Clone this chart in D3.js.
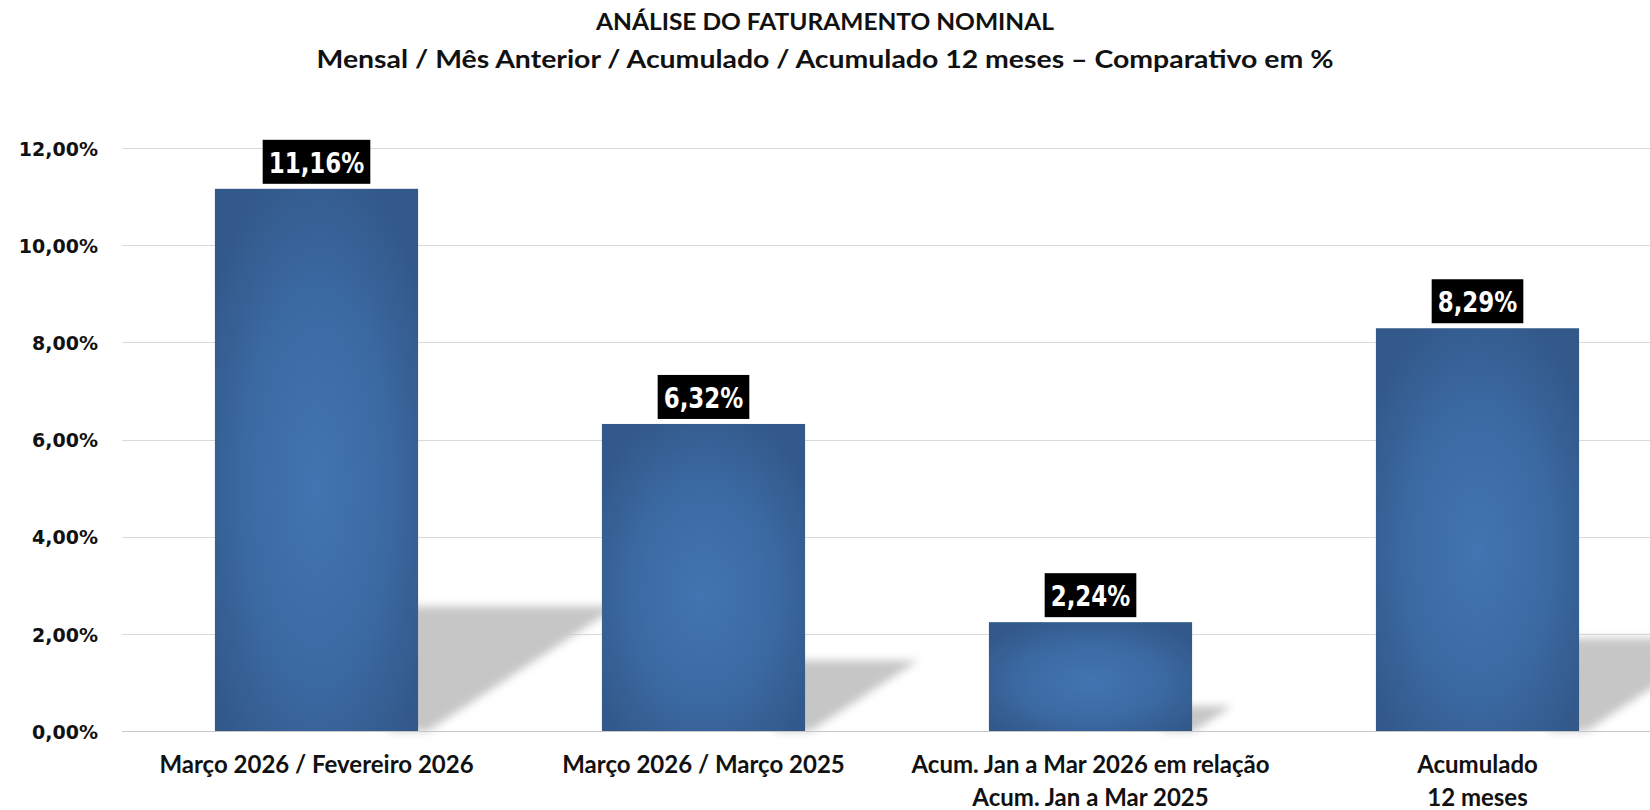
<!DOCTYPE html>
<html>
<head>
<meta charset="utf-8">
<script src="https://cdn.jsdelivr.net/npm/d3@7"></script>
<style>
html,body{margin:0;padding:0;background:#fff;}
svg{display:block;}
</style>
</head>
<body>
<svg id="chart" width="1650" height="810"></svg>
<script>
// ---- data ----
const titleLines = ["ANÁLISE DO FATURAMENTO NOMINAL", "Mensal / Mês Anterior / Acumulado  / Acumulado  12 meses – Comparativo  em %"];
const categories = ["c1", "c2", "c3", "c4"];
const categoryLabels = [
  ["Março 2026 / Fevereiro 2026"],
  ["Março 2026 / Março 2025"],
  ["Acum. Jan a Mar 2026 em relação", "Acum. Jan a Mar 2025"],
  ["Acumulado", "12 meses"]
];
const values = [11.16, 6.32, 2.24, 8.29];
const yTicks = [0, 2, 4, 6, 8, 10, 12];

// ---- setup ----
const svg = d3.select("#chart");
const W = 1650, H = 810;
const plot = {left: 123, right: 1671, top: 148, bottom: 731};
const locale = d3.formatLocale({decimal: ",", thousands: ".", grouping: [3], currency: ["R$", ""]});
const fmt = locale.format(".2f");

const x = d3.scaleBand().domain(categories).range([plot.left, plot.right]).paddingInner(0.475).paddingOuter(0.2375);
const y = d3.scaleLinear().domain([0, 12]).range([plot.bottom, plot.top]);

const defs = svg.append("defs");
const grad = defs.append("radialGradient").attr("id", "barGrad")
  .attr("cx", 0.5).attr("cy", 0.55).attr("r", 0.62);
grad.append("stop").attr("offset", "0%").attr("stop-color", "#4275b1");
grad.append("stop").attr("offset", "55%").attr("stop-color", "#3b6aa3");
grad.append("stop").attr("offset", "100%").attr("stop-color", "#33598a");
const blur = defs.append("filter").attr("id", "shadowBlur").attr("x", "-20%").attr("y", "-20%").attr("width", "140%").attr("height", "140%");
blur.append("feGaussianBlur").attr("stdDeviation", 4);

// titles
svg.append("text").attr("x", 825).attr("y", 30).attr("text-anchor", "middle")
  .attr("font-family", "Lato").attr("font-weight", "bold").attr("font-size", 22).attr("fill", "#111")
  .attr("textLength", 458).attr("lengthAdjust", "spacingAndGlyphs")
  .text(titleLines[0]);
svg.append("text").attr("x", 825).attr("y", 68).attr("text-anchor", "middle")
  .attr("font-family", "Lato").attr("font-weight", "bold").attr("font-size", 25).attr("fill", "#111")
  .attr("textLength", 1017).attr("lengthAdjust", "spacingAndGlyphs")
  .text(titleLines[1]);

// gridlines
svg.append("g").selectAll("line").data(yTicks).join("line")
  .attr("x1", 122).attr("x2", W)
  .attr("y1", d => Math.round(y(d)) + 0.5).attr("y2", d => Math.round(y(d)) + 0.5)
  .attr("stroke", d => d === 0 ? "#c8c8c8" : "#d9d9d9").attr("stroke-width", 1);

// y axis labels
const yAxis = d3.axisLeft(y).tickValues(yTicks).tickSize(0).tickPadding(0).tickFormat(d => fmt(d) + "%");
const ya = svg.append("g").attr("transform", "translate(98,0)").call(yAxis);
ya.select(".domain").remove();
ya.selectAll("text").attr("font-family", "DejaVu Sans").attr("font-weight", "bold").attr("font-size", 19)
  .attr("fill", "#111").attr("dy", "0.38em");

// shadows
const shadowG = svg.append("g").attr("filter", "url(#shadowBlur)");
values.forEach((v, i) => {
  const right = x(categories[i]) + x.bandwidth();
  const base = y(0);
  const s = (base - y(v)) * 0.23;
  const pts = [[right - 30, base - s], [right + 1.6 * s, base - s], [right + 0.08 * s, base], [right - 30, base]];
  shadowG.append("path").attr("d", d3.line()(pts) + "Z").attr("fill", "#c6c6c6");
});

// bars
svg.append("g").selectAll("rect").data(values).join("rect")
  .attr("x", (d, i) => x(categories[i]))
  .attr("y", d => y(d))
  .attr("width", x.bandwidth())
  .attr("height", d => y(0) - y(d))
  .attr("fill", "url(#barGrad)");

// value labels
const lg = svg.append("g");
values.forEach((v, i) => {
  const cx = x(categories[i]) + x.bandwidth() / 2;
  const top = y(v);
  const g = lg.append("g");
  const rect = g.append("rect").attr("fill", "#000");
  const t = g.append("text").attr("x", cx).attr("y", top - 16).attr("text-anchor", "middle")
    .attr("font-family", "DejaVu Sans").attr("font-weight", "bold").attr("font-size", 28).attr("fill", "#fff")
    .text(fmt(v) + "%");
  const natural = t.node().getComputedTextLength();
  const tl = natural * 0.82;
  t.attr("textLength", tl).attr("lengthAdjust", "spacingAndGlyphs");
  const bw = tl + 12, bh = 44;
  rect.attr("x", cx - bw / 2).attr("y", top - 5 - bh).attr("width", bw).attr("height", bh);
});

// x labels
const xl = svg.append("g");
categoryLabels.forEach((lines, i) => {
  const cx = x(categories[i]) + x.bandwidth() / 2;
  lines.forEach((ln, j) => {
    xl.append("text").attr("x", cx).attr("y", 773 + j * 33).attr("text-anchor", "middle")
      .attr("font-family", "Lato").attr("font-weight", "bold").attr("font-size", 24).attr("fill", "#111")
      .text(ln);
  });
});
</script>
</body>
</html>
